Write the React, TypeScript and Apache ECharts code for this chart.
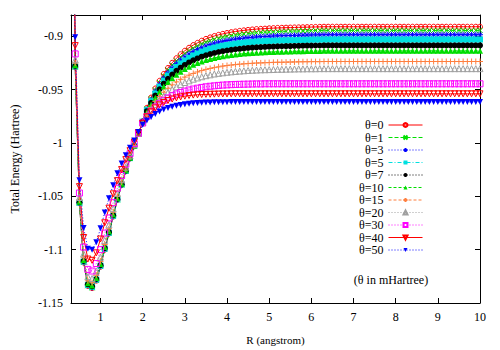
import React, { useEffect, useRef } from "react";
import * as echarts from "echarts";

const rValues = [
  0.3, 0.4, 0.5, 0.6, 0.7, 0.8, 0.9, 1.0, 1.1, 1.2,
  1.3, 1.4, 1.5, 1.6, 1.7, 1.8, 1.9, 2.0, 2.1, 2.2,
  2.3, 2.4, 2.5, 2.6, 2.7, 2.8, 2.9, 3.0, 3.1, 3.2,
  3.3, 3.4, 3.5, 3.6, 3.7, 3.8, 3.9, 4.0, 4.1, 4.2,
  4.3, 4.4, 4.5, 4.6, 4.7, 4.8, 4.9, 5.0, 5.1, 5.2,
  5.3, 5.4, 5.5, 5.6, 5.7, 5.8, 5.9, 6.0, 6.1, 6.2,
  6.3, 6.4, 6.5, 6.6, 6.7, 6.8, 6.9, 7.0, 7.1, 7.2,
  7.3, 7.4, 7.5, 7.6, 7.7, 7.8, 7.9, 8.0, 8.1, 8.2,
  8.3, 8.4, 8.5, 8.6, 8.7, 8.8, 8.9, 9.0, 9.1, 9.2,
  9.3, 9.4, 9.5, 9.6, 9.7, 9.8, 9.9, 10.0,
];

const theta0 = [
  -0.6100, -0.9290, -1.0565, -1.1120, -1.1340, -1.1360, -1.1290, -1.1160, -1.1000, -1.0850,
  -1.0690, -1.0535, -1.0395, -1.0265, -1.0145, -1.0030, -0.9915, -0.9795, -0.9670, -0.9574,
  -0.9489, -0.9417, -0.9353, -0.9297, -0.9248, -0.9205, -0.9168, -0.9135, -0.9107, -0.9082,
  -0.9061, -0.9041, -0.9024, -0.9010, -0.8997, -0.8986, -0.8977, -0.8969, -0.8961, -0.8955,
  -0.8949, -0.8944, -0.8940, -0.8936, -0.8932, -0.8930, -0.8928, -0.8925, -0.8923, -0.8921,
  -0.8920, -0.8919, -0.8918, -0.8917, -0.8916, -0.8915, -0.8914, -0.8913, -0.8912, -0.8911,
  -0.8910, -0.8910, -0.8910, -0.8910, -0.8910, -0.8910, -0.8910, -0.8910, -0.8910, -0.8910,
  -0.8910, -0.8910, -0.8910, -0.8910, -0.8910, -0.8910, -0.8910, -0.8910, -0.8910, -0.8910,
  -0.8910, -0.8910, -0.8910, -0.8910, -0.8910, -0.8910, -0.8910, -0.8910, -0.8910, -0.8910,
  -0.8910, -0.8910, -0.8910, -0.8910, -0.8910, -0.8910, -0.8910, -0.8910,
];

const theta1 = [
  -0.6080, -0.9288, -1.0564, -1.1118, -1.1338, -1.1358, -1.1288, -1.1158, -1.0998, -1.0848,
  -1.0688, -1.0534, -1.0394, -1.0264, -1.0144, -1.0030, -0.9915, -0.9797, -0.9676, -0.9584,
  -0.9503, -0.9433, -0.9371, -0.9317, -0.9270, -0.9229, -0.9193, -0.9162, -0.9135, -0.9111,
  -0.9090, -0.9071, -0.9055, -0.9042, -0.9029, -0.9018, -0.9009, -0.9001, -0.8994, -0.8988,
  -0.8983, -0.8978, -0.8974, -0.8970, -0.8966, -0.8964, -0.8962, -0.8959, -0.8958, -0.8956,
  -0.8955, -0.8954, -0.8952, -0.8951, -0.8950, -0.8949, -0.8948, -0.8947, -0.8946, -0.8946,
  -0.8945, -0.8945, -0.8945, -0.8945, -0.8945, -0.8945, -0.8945, -0.8945, -0.8945, -0.8945,
  -0.8945, -0.8945, -0.8945, -0.8945, -0.8945, -0.8945, -0.8945, -0.8945, -0.8945, -0.8945,
  -0.8945, -0.8945, -0.8945, -0.8945, -0.8945, -0.8945, -0.8945, -0.8945, -0.8945, -0.8945,
  -0.8945, -0.8945, -0.8945, -0.8945, -0.8945, -0.8945, -0.8945, -0.8945,
];

const theta3 = [
  -0.6060, -0.9286, -1.0562, -1.1115, -1.1335, -1.1355, -1.1285, -1.1155, -1.0995, -1.0845,
  -1.0686, -1.0532, -1.0392, -1.0263, -1.0144, -1.0029, -0.9915, -0.9799, -0.9684, -0.9595,
  -0.9518, -0.9451, -0.9392, -0.9341, -0.9295, -0.9256, -0.9222, -0.9192, -0.9166, -0.9143,
  -0.9124, -0.9106, -0.9090, -0.9077, -0.9065, -0.9055, -0.9047, -0.9039, -0.9032, -0.9026,
  -0.9021, -0.9017, -0.9012, -0.9009, -0.9006, -0.9003, -0.9001, -0.8999, -0.8997, -0.8995,
  -0.8994, -0.8993, -0.8992, -0.8991, -0.8990, -0.8989, -0.8988, -0.8987, -0.8986, -0.8986,
  -0.8985, -0.8985, -0.8985, -0.8985, -0.8985, -0.8985, -0.8985, -0.8985, -0.8985, -0.8985,
  -0.8985, -0.8985, -0.8985, -0.8985, -0.8985, -0.8985, -0.8985, -0.8985, -0.8985, -0.8985,
  -0.8985, -0.8985, -0.8985, -0.8985, -0.8985, -0.8985, -0.8985, -0.8985, -0.8985, -0.8985,
  -0.8985, -0.8985, -0.8985, -0.8985, -0.8985, -0.8985, -0.8985, -0.8985,
];

const theta5 = [
  -0.6040, -0.9282, -1.0559, -1.1111, -1.1330, -1.1350, -1.1280, -1.1150, -1.0990, -1.0841,
  -1.0682, -1.0528, -1.0389, -1.0261, -1.0142, -1.0028, -0.9914, -0.9800, -0.9692, -0.9608,
  -0.9535, -0.9471, -0.9416, -0.9367, -0.9324, -0.9287, -0.9254, -0.9226, -0.9202, -0.9180,
  -0.9161, -0.9144, -0.9130, -0.9117, -0.9106, -0.9096, -0.9088, -0.9081, -0.9075, -0.9069,
  -0.9064, -0.9060, -0.9056, -0.9053, -0.9049, -0.9047, -0.9045, -0.9043, -0.9041, -0.9040,
  -0.9039, -0.9038, -0.9037, -0.9036, -0.9035, -0.9034, -0.9033, -0.9032, -0.9031, -0.9031,
  -0.9030, -0.9030, -0.9030, -0.9030, -0.9030, -0.9030, -0.9030, -0.9030, -0.9030, -0.9030,
  -0.9030, -0.9030, -0.9030, -0.9030, -0.9030, -0.9030, -0.9030, -0.9030, -0.9030, -0.9030,
  -0.9030, -0.9030, -0.9030, -0.9030, -0.9030, -0.9030, -0.9030, -0.9030, -0.9030, -0.9030,
  -0.9030, -0.9030, -0.9030, -0.9030, -0.9030, -0.9030, -0.9030, -0.9030,
];

const theta7 = [
  -0.6020, -0.9278, -1.0556, -1.1106, -1.1325, -1.1345, -1.1275, -1.1145, -1.0985, -1.0836,
  -1.0678, -1.0525, -1.0387, -1.0259, -1.0141, -1.0028, -0.9914, -0.9802, -0.9702, -0.9624,
  -0.9555, -0.9496, -0.9444, -0.9399, -0.9359, -0.9324, -0.9294, -0.9268, -0.9245, -0.9225,
  -0.9207, -0.9191, -0.9178, -0.9167, -0.9156, -0.9147, -0.9139, -0.9133, -0.9127, -0.9121,
  -0.9117, -0.9113, -0.9109, -0.9106, -0.9103, -0.9101, -0.9099, -0.9097, -0.9096, -0.9094,
  -0.9093, -0.9092, -0.9091, -0.9090, -0.9089, -0.9088, -0.9087, -0.9087, -0.9086, -0.9086,
  -0.9085, -0.9085, -0.9085, -0.9085, -0.9085, -0.9085, -0.9085, -0.9085, -0.9085, -0.9085,
  -0.9085, -0.9085, -0.9085, -0.9085, -0.9085, -0.9085, -0.9085, -0.9085, -0.9085, -0.9085,
  -0.9085, -0.9085, -0.9085, -0.9085, -0.9085, -0.9085, -0.9085, -0.9085, -0.9085, -0.9085,
  -0.9085, -0.9085, -0.9085, -0.9085, -0.9085, -0.9085, -0.9085, -0.9085,
];

const theta10 = [
  -0.6000, -0.9270, -1.0550, -1.1098, -1.1316, -1.1335, -1.1265, -1.1135, -1.0976, -1.0827,
  -1.0670, -1.0518, -1.0381, -1.0255, -1.0138, -1.0026, -0.9914, -0.9805, -0.9711, -0.9639,
  -0.9575, -0.9520, -0.9471, -0.9429, -0.9392, -0.9359, -0.9331, -0.9306, -0.9285, -0.9266,
  -0.9250, -0.9235, -0.9223, -0.9212, -0.9202, -0.9194, -0.9187, -0.9180, -0.9175, -0.9170,
  -0.9166, -0.9162, -0.9159, -0.9156, -0.9153, -0.9151, -0.9149, -0.9147, -0.9146, -0.9144,
  -0.9144, -0.9143, -0.9142, -0.9141, -0.9140, -0.9139, -0.9138, -0.9138, -0.9137, -0.9137,
  -0.9136, -0.9136, -0.9136, -0.9136, -0.9136, -0.9136, -0.9136, -0.9136, -0.9136, -0.9136,
  -0.9136, -0.9136, -0.9136, -0.9136, -0.9136, -0.9136, -0.9136, -0.9136, -0.9136, -0.9136,
  -0.9136, -0.9136, -0.9136, -0.9136, -0.9136, -0.9136, -0.9136, -0.9136, -0.9136, -0.9136,
  -0.9136, -0.9136, -0.9136, -0.9136, -0.9136, -0.9136, -0.9136, -0.9136,
];

const theta15 = [
  -0.5950, -0.9251, -1.0535, -1.1075, -1.1292, -1.1310, -1.1240, -1.1110, -1.0952, -1.0804,
  -1.0649, -1.0500, -1.0367, -1.0244, -1.0131, -1.0023, -0.9913, -0.9808, -0.9729, -0.9667,
  -0.9612, -0.9565, -0.9524, -0.9487, -0.9455, -0.9427, -0.9403, -0.9382, -0.9364, -0.9348,
  -0.9334, -0.9321, -0.9310, -0.9301, -0.9293, -0.9286, -0.9279, -0.9274, -0.9269, -0.9265,
  -0.9261, -0.9258, -0.9255, -0.9253, -0.9250, -0.9249, -0.9247, -0.9246, -0.9244, -0.9243,
  -0.9243, -0.9242, -0.9241, -0.9240, -0.9239, -0.9238, -0.9238, -0.9237, -0.9237, -0.9237,
  -0.9236, -0.9236, -0.9236, -0.9236, -0.9236, -0.9236, -0.9236, -0.9236, -0.9236, -0.9236,
  -0.9236, -0.9236, -0.9236, -0.9236, -0.9236, -0.9236, -0.9236, -0.9236, -0.9236, -0.9236,
  -0.9236, -0.9236, -0.9236, -0.9236, -0.9236, -0.9236, -0.9236, -0.9236, -0.9236, -0.9236,
  -0.9236, -0.9236, -0.9236, -0.9236, -0.9236, -0.9236, -0.9236, -0.9236,
];

const theta20 = [
  -0.5900, -0.9220, -1.0511, -1.1039, -1.1253, -1.1270, -1.1200, -1.1070, -1.0913, -1.0767,
  -1.0616, -1.0472, -1.0345, -1.0227, -1.0120, -1.0017, -0.9911, -0.9810, -0.9742, -0.9686,
  -0.9638, -0.9596, -0.9559, -0.9526, -0.9498, -0.9473, -0.9452, -0.9433, -0.9417, -0.9402,
  -0.9390, -0.9379, -0.9369, -0.9361, -0.9353, -0.9347, -0.9342, -0.9337, -0.9333, -0.9329,
  -0.9326, -0.9323, -0.9320, -0.9318, -0.9316, -0.9314, -0.9313, -0.9312, -0.9311, -0.9309,
  -0.9309, -0.9308, -0.9307, -0.9306, -0.9305, -0.9305, -0.9304, -0.9304, -0.9304, -0.9303,
  -0.9303, -0.9303, -0.9303, -0.9303, -0.9303, -0.9303, -0.9303, -0.9303, -0.9303, -0.9303,
  -0.9303, -0.9303, -0.9303, -0.9303, -0.9303, -0.9303, -0.9303, -0.9303, -0.9303, -0.9303,
  -0.9303, -0.9303, -0.9303, -0.9303, -0.9303, -0.9303, -0.9303, -0.9303, -0.9303, -0.9303,
  -0.9303, -0.9303, -0.9303, -0.9303, -0.9303, -0.9303, -0.9303, -0.9303,
];

const theta30 = [
  -0.5850, -0.9165, -1.0469, -1.0976, -1.1185, -1.1200, -1.1130, -1.1000, -1.0845, -1.0703,
  -1.0559, -1.0423, -1.0305, -1.0198, -1.0100, -1.0006, -0.9907, -0.9812, -0.9752, -0.9703,
  -0.9662, -0.9628, -0.9600, -0.9577, -0.9557, -0.9540, -0.9526, -0.9514, -0.9503, -0.9494,
  -0.9486, -0.9479, -0.9473, -0.9468, -0.9464, -0.9460, -0.9457, -0.9455, -0.9453, -0.9451,
  -0.9450, -0.9449, -0.9448, -0.9447, -0.9446, -0.9446, -0.9445, -0.9445, -0.9445, -0.9445,
  -0.9445, -0.9445, -0.9445, -0.9445, -0.9445, -0.9445, -0.9445, -0.9445, -0.9445, -0.9445,
  -0.9445, -0.9445, -0.9445, -0.9445, -0.9445, -0.9445, -0.9445, -0.9445, -0.9445, -0.9445,
  -0.9445, -0.9445, -0.9445, -0.9445, -0.9445, -0.9445, -0.9445, -0.9445, -0.9445, -0.9445,
  -0.9445, -0.9445, -0.9445, -0.9445, -0.9445, -0.9445, -0.9445, -0.9445, -0.9445, -0.9445,
  -0.9445, -0.9445, -0.9445, -0.9445, -0.9445, -0.9445, -0.9445, -0.9445,
];

const theta40 = [
  -0.5800, -0.9087, -1.0409, -1.0886, -1.1088, -1.1100, -1.1030, -1.0900, -1.0748, -1.0611,
  -1.0477, -1.0353, -1.0249, -1.0156, -1.0072, -0.9991, -0.9902, -0.9815, -0.9755, -0.9708,
  -0.9671, -0.9642, -0.9620, -0.9602, -0.9588, -0.9577, -0.9568, -0.9561, -0.9555, -0.9551,
  -0.9548, -0.9546, -0.9544, -0.9543, -0.9542, -0.9541, -0.9540, -0.9540, -0.9539, -0.9539,
  -0.9539, -0.9539, -0.9539, -0.9539, -0.9539, -0.9539, -0.9539, -0.9539, -0.9539, -0.9539,
  -0.9539, -0.9539, -0.9539, -0.9539, -0.9539, -0.9539, -0.9539, -0.9539, -0.9539, -0.9539,
  -0.9539, -0.9539, -0.9539, -0.9539, -0.9539, -0.9539, -0.9539, -0.9539, -0.9539, -0.9539,
  -0.9539, -0.9539, -0.9539, -0.9539, -0.9539, -0.9539, -0.9539, -0.9539, -0.9539, -0.9539,
  -0.9539, -0.9539, -0.9539, -0.9539, -0.9539, -0.9539, -0.9539, -0.9539, -0.9539, -0.9539,
  -0.9539, -0.9539, -0.9539, -0.9539, -0.9539, -0.9539, -0.9539, -0.9539,
];

const theta50 = [
  -0.5750, -0.9009, -1.0349, -1.0796, -1.0991, -1.1000, -1.0930, -1.0800, -1.0651, -1.0519,
  -1.0395, -1.0283, -1.0193, -1.0114, -1.0044, -0.9976, -0.9897, -0.9830, -0.9790, -0.9756,
  -0.9728, -0.9705, -0.9686, -0.9671, -0.9659, -0.9650, -0.9643, -0.9637, -0.9632, -0.9628,
  -0.9625, -0.9623, -0.9621, -0.9620, -0.9619, -0.9618, -0.9617, -0.9617, -0.9616, -0.9616,
  -0.9615, -0.9615, -0.9615, -0.9615, -0.9615, -0.9615, -0.9615, -0.9615, -0.9615, -0.9615,
  -0.9615, -0.9615, -0.9615, -0.9615, -0.9615, -0.9615, -0.9615, -0.9615, -0.9615, -0.9615,
  -0.9615, -0.9615, -0.9615, -0.9615, -0.9615, -0.9615, -0.9615, -0.9615, -0.9615, -0.9615,
  -0.9615, -0.9615, -0.9615, -0.9615, -0.9615, -0.9615, -0.9615, -0.9615, -0.9615, -0.9615,
  -0.9615, -0.9615, -0.9615, -0.9615, -0.9615, -0.9615, -0.9615, -0.9615, -0.9615, -0.9615,
  -0.9615, -0.9615, -0.9615, -0.9615, -0.9615, -0.9615, -0.9615, -0.9615,
];

const seriesNames = ["θ=0", "θ=1", "θ=3", "θ=5", "θ=7", "θ=10", "θ=15", "θ=20", "θ=30", "θ=40", "θ=50"];
const seriesValues = [theta0, theta1, theta3, theta5, theta7, theta10, theta15, theta20, theta30, theta40, theta50];

const xTicks = [1, 2, 3, 4, 5, 6, 7, 8, 9, 10];
const yTicks = [-1.15, -1.1, -1.05, -1, -0.95, -0.9];

const FONT = "'Liberation Serif', 'DejaVu Serif', serif";

const CROSS = "path://M0,0L10,10M10,0L0,10";
const PLUS = "path://M5,0L5,10M0,5L10,5";
const STAR = "path://M5,0L5,10M0,5L10,5M1.5,1.5L8.5,8.5M8.5,1.5L1.5,8.5";

type Style = {
  color: string;
  symbol: string;
  open?: boolean;
  stroke?: boolean;
  rotate?: number;
  size: number;
  dash: any;
};

const styles: Style[] = [
  { color: "#ff0000", symbol: "circle", open: true, size: 5, dash: "solid" },
  { color: "#00e000", symbol: CROSS, stroke: true, size: 5, dash: [4, 2] },
  { color: "#0000ff", symbol: STAR, stroke: true, size: 6, dash: [1, 2] },
  { color: "#00e0e0", symbol: "rect", size: 6, dash: [4, 2, 1, 2] },
  { color: "#000000", symbol: "circle", size: 6, dash: [1, 2] },
  { color: "#00dd00", symbol: "triangle", size: 6, dash: [3, 2] },
  { color: "#ff7f3f", symbol: PLUS, stroke: true, size: 6, dash: [3, 2] },
  { color: "#a0a0a0", symbol: "triangle", open: true, size: 6, dash: [1, 2] },
  { color: "#ff00ff", symbol: "rect", open: true, size: 6, dash: [1, 2] },
  { color: "#ff0000", symbol: "triangle", open: true, rotate: 180, size: 6, dash: "solid" },
  { color: "#0000ff", symbol: "triangle", rotate: 180, size: 6, dash: [1, 2] },
];

export default function App() {
  const ref = useRef<HTMLDivElement>(null);

  useEffect(() => {
    if (!ref.current) return;
    const chart = echarts.init(ref.current, undefined, { renderer: "svg" });

    const series = seriesNames.map((name, i) => {
      const st = styles[i];
      const itemStyle: any = st.open
        ? { color: "rgba(255,255,255,0)", borderColor: st.color, borderWidth: 1 }
        : st.stroke
        ? { color: st.color, borderColor: st.color, borderWidth: 1 }
        : { color: st.color, borderWidth: 0 };
      return {
        name,
        type: "line",
        xAxisIndex: 0,
        yAxisIndex: 0,
        data: rValues.map((r, k) => [r, seriesValues[i][k]]),
        symbol: st.symbol,
        symbolSize: st.size,
        symbolRotate: st.rotate || 0,
        showSymbol: true,
        showAllSymbol: true,
        clip: true,
        silent: true,
        lineStyle: { color: st.color, width: 1, type: st.dash },
        itemStyle,
        emphasis: { disabled: true },
        z: 2,
      };
    });

    const axisLineStyle = { color: "#000", width: 1 };
    const labelStyle = { fontFamily: FONT, fontSize: 12, color: "#000" };

    chart.setOption({
      animation: false,
      backgroundColor: "#fff",
      grid: { left: 71, right: 20, top: 15, bottom: 38, containLabel: false },
      legend: {
        orient: "vertical",
        right: 72,
        top: 114,
        align: "right",
        itemWidth: 34,
        itemHeight: 5,
        itemGap: 0.5,
        selectedMode: false,
        data: seriesNames,
        lineStyle: { width: 1 },
        textStyle: { fontFamily: FONT, fontSize: 12, color: "#000", lineHeight: 12 },
      },
      graphic: [
        {
          type: "text",
          x: 391,
          y: 280,
          style: {
            text: "(θ in mHartree)",
            fontFamily: FONT,
            fontSize: 12,
            fill: "#000",
            align: "center",
            verticalAlign: "middle",
          },
        },
      ],
      xAxis: [
        {
          type: "value",
          min: 0.3,
          max: 10,
          position: "bottom",
          name: "R (angstrom)",
          nameLocation: "middle",
          nameGap: 31,
          nameTextStyle: { fontFamily: FONT, fontSize: 11, color: "#000" },
          axisLine: { show: true, lineStyle: axisLineStyle },
          axisTick: { show: true, inside: true, length: 5, customValues: xTicks, lineStyle: axisLineStyle },
          axisLabel: { show: true, customValues: xTicks, margin: 8, ...labelStyle },
          splitLine: { show: false },
        },
        {
          type: "value",
          min: 0.3,
          max: 10,
          position: "top",
          axisLine: { show: true, lineStyle: axisLineStyle },
          axisTick: { show: true, inside: true, length: 5, customValues: xTicks, lineStyle: axisLineStyle },
          axisLabel: { show: false },
          splitLine: { show: false },
        },
      ],
      yAxis: [
        {
          type: "value",
          min: -1.15,
          max: -0.88,
          position: "left",
          name: "Total Energy (Hartree)",
          nameLocation: "middle",
          nameGap: 50,
          nameTextStyle: labelStyle,
          axisLine: { show: true, lineStyle: axisLineStyle },
          axisTick: { show: true, inside: true, length: 5, customValues: yTicks, lineStyle: axisLineStyle },
          axisLabel: { show: true, customValues: yTicks, margin: 8, ...labelStyle },
          splitLine: { show: false },
        },
        {
          type: "value",
          min: -1.15,
          max: -0.88,
          position: "right",
          axisLine: { show: true, lineStyle: axisLineStyle },
          axisTick: { show: true, inside: true, length: 5, customValues: yTicks, lineStyle: axisLineStyle },
          axisLabel: { show: false },
          splitLine: { show: false },
        },
      ],
      series,
    });

    return () => {
      chart.dispose();
    };
  }, []);

  return (
    <div
      ref={ref}
      style={{ position: "fixed", left: 0, top: 0, width: 500, height: 350, background: "#fff" }}
    />
  );
}
